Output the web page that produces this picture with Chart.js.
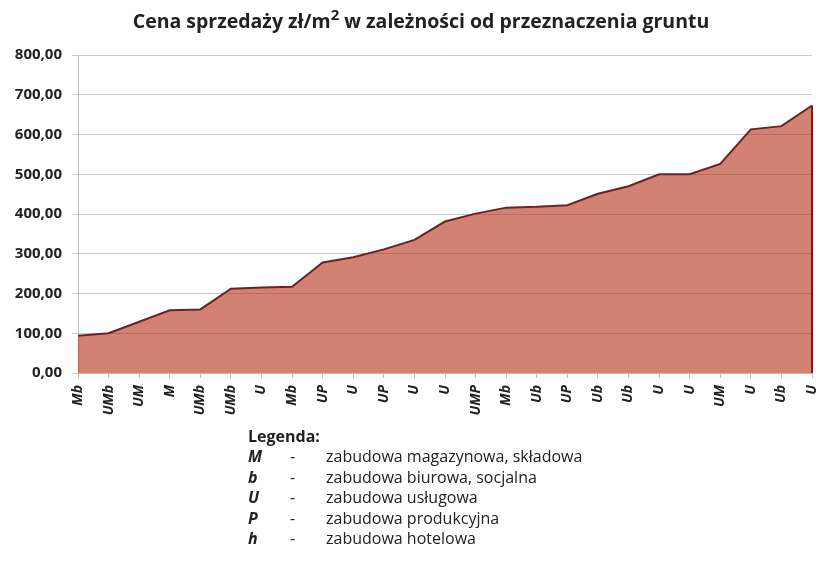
<!DOCTYPE html>
<html>
<head>
<meta charset="utf-8">
<script src="https://cdn.jsdelivr.net/npm/chart.js@4"></script>
<style>
	body { margin: 0; background: #fff; }
	#wrap { position: relative; width: 821px; height: 575px; }
	#title {
		position: absolute; left: 0; top: 4px; width: 842px; text-align: center;
		font: bold 19.5px "Open Sans", sans-serif; color: #222;
	}
	#title sup { font-size: 15px; }
	#legend {
		position: absolute; left: 248px; top: 426px;
		font: 16px "Open Sans", sans-serif; color: #222; line-height: 20.4px;
	}
	#legend .row { display: flex; }
	#legend .k { width: 42px; font-weight: bold; font-style: italic; }
	#legend .d { width: 36px; }
</style>
</head>
<body>
<div id="wrap">
	<div id="title">Cena sprzedaży zł/m<sup>2</sup> w zależności od przeznaczenia gruntu</div>
	<canvas id="chart" width="821" height="575"></canvas>
	<div id="legend"></div>
</div>
<script>
const categories = ['Mb', 'UMb', 'UM', 'M', 'UMb', 'UMb', 'U', 'Mb', 'UP', 'U', 'UP', 'U', 'U',
	'UMP', 'Mb', 'Ub', 'UP', 'Ub', 'Ub', 'U', 'U', 'UM', 'U', 'Ub', 'U'];
const prices = [94, 100, 129, 158, 160, 212, 215, 217, 278, 291, 311, 335, 381,
	401, 416, 418, 422, 451, 470, 500, 500, 526, 613, 621, 673];

const legendKeys = ['M', 'b', 'U', 'P', 'h'];
const legendTexts = [
	'zabudowa magazynowa, składowa',
	'zabudowa biurowa, socjalna',
	'zabudowa usługowa',
	'zabudowa produkcyjna',
	'zabudowa hotelowa'
];

// legenda pod wykresem
let legend = document.getElementById('legend');
let html = '<div style="font-weight:bold">Legenda:</div>';
for (let i = 0; i < legendKeys.length; i++) {
	html += `<div class="row"><span class="k">${legendKeys[i]}</span><span class="d">-</span><span>${legendTexts[i]}</span></div>`;
}
legend.innerHTML = html;

// prawa krawędź obszaru (jak w Excelu)
const rightEdge = {
	id: 'rightEdge',
	afterDatasetsDraw(chart) {
		let meta = chart.getDatasetMeta(0);
		let last = meta.data[meta.data.length - 1];
		let y0 = chart.scales.y.getPixelForValue(0);
		let ctx = chart.ctx;
		ctx.save();
		ctx.strokeStyle = '#7a1c1c';
		ctx.lineWidth = 2;
		ctx.beginPath();
		ctx.moveTo(last.x, last.y);
		ctx.lineTo(last.x, y0);
		ctx.stroke();
		ctx.restore();
	}
};

new Chart(document.getElementById('chart'), {
	type: 'line',
	data: {
		labels: categories,
		datasets: [{
			data: prices,
			fill: 'origin',
			backgroundColor: 'rgba(176, 40, 14, 0.58)',
			borderColor: '#7a1c1c',
			borderWidth: 2,
			pointRadius: 0,
			tension: 0
		}]
	},
	options: {
		responsive: false,
		animation: false,
		layout: { padding: { top: 55, right: 9, bottom: 0, left: 0 } },
		plugins: {
			legend: { display: false },
			tooltip: { enabled: false }
		},
		scales: {
			x: {
				offset: false,
				grid: { drawOnChartArea: false, color: '#bdbdbd', tickLength: 5 },
				border: { color: '#bdbdbd' },
				ticks: {
					autoSkip: false, maxRotation: 90, minRotation: 90, padding: 7,
					color: '#222',
					font: { family: 'Open Sans', size: 14, weight: 'bold', style: 'italic' }
				},
				afterFit(s) {
					s.height = 202;
					s.paddingLeft = 0;
					s.paddingRight = 0;
				}
			},
			y: {
				min: 0, max: 800,
				grid: { color: '#cacaca', tickLength: 6 },
				border: { color: '#bdbdbd' },
				ticks: {
					stepSize: 100, padding: 10, color: '#222',
					font: { family: 'Open Sans', size: 15, weight: 'bold' },
					callback: v => v.toFixed(2).replace('.', ',')
				},
				afterFit(s) { s.width = 78; }
			}
		}
	},
	plugins: [rightEdge]
});
</script>
</body>
</html>
